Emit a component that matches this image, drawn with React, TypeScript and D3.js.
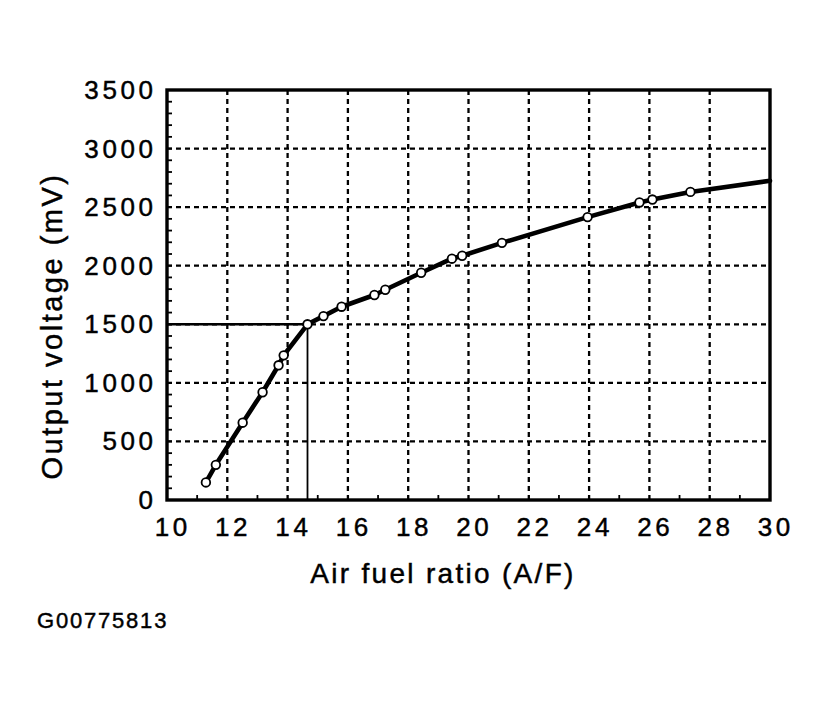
import React from "react";
import * as d3 from "d3";

const xTicks = [10, 12, 14, 16, 18, 20, 22, 24, 26, 28, 30];
const yTicks = [0, 500, 1000, 1500, 2000, 2500, 3000, 3500];
const xMinorTicks = [11, 13, 15, 17, 19, 21, 23, 25, 27, 29];
const yMinorTicks = d3.range(0, 3501, 100);

const pointAF = [11.29, 11.62, 12.51, 13.17, 13.7, 13.87, 14.66, 15.19, 15.79, 16.88, 17.24, 18.43, 19.45, 19.79, 21.11, 23.95, 25.67, 26.1, 27.36];
const pointMV = [150, 300, 660, 920, 1150, 1235, 1500, 1570, 1650, 1750, 1795, 1940, 2060, 2085, 2195, 2415, 2540, 2565, 2630];
const curveEndAF = 30;
const curveEndMV = 2725;
const refAF = 14.66;
const refMV = 1500;

const xTitle = "Air fuel ratio (A/F)";
const yTitle = "Output voltage (mV)";
const figureId = "G00775813";

const W = 823;
const H = 704;
const left = 167;
const right = 770;
const top = 90;
const bottom = 500;

const FONT = "'Liberation Sans', Arial, Helvetica, sans-serif";

export default function App() {
  const x = d3.scaleLinear().domain([10, 30]).range([left, right]);
  const y = d3.scaleLinear().domain([0, 3500]).range([bottom, top]);

  const pts: [number, number][] = pointAF.map((a, i) => [a, pointMV[i]]);
  const curvePts: [number, number][] = [...pts, [curveEndAF, curveEndMV]];
  const line = d3
    .line<[number, number]>()
    .x((d) => x(d[0]))
    .y((d) => y(d[1]))
    .curve(d3.curveLinear);

  const ls = 3.6;
  const textStroke = { stroke: "#000", strokeWidth: 0.45 };

  return (
    <div style={{ position: "absolute", left: 0, top: 0 }}>
      <svg width={W} height={H} style={{ display: "block", background: "#fff" }}>
        <rect x={0} y={0} width={W} height={H} fill="#fff" />
        {/* grid */}
        {xTicks.slice(1, -1).map((t) => (
          <line key={"gx" + t} x1={x(t)} x2={x(t)} y1={top} y2={bottom} stroke="#000" strokeWidth={2.3} strokeDasharray="5,4" />
        ))}
        {yTicks.slice(1, -1).map((t) => (
          <line key={"gy" + t} x1={left} x2={right} y1={y(t)} y2={y(t)} stroke="#000" strokeWidth={2.3} strokeDasharray="5,4" />
        ))}
        {/* minor ticks */}
        {yMinorTicks.map((t) => (
          <line key={"my" + t} x1={left} x2={left + 5} y1={y(t)} y2={y(t)} stroke="#000" strokeWidth={1.8} />
        ))}
        {xMinorTicks.map((t) => (
          <line key={"mx" + t} x1={x(t)} x2={x(t)} y1={bottom} y2={bottom - 5} stroke="#000" strokeWidth={1.8} />
        ))}
        {/* frame */}
        <rect x={left} y={top} width={right - left} height={bottom - top} fill="none" stroke="#000" strokeWidth={3.4} />
        {/* reference lines */}
        <line x1={x(10)} x2={x(refAF)} y1={y(refMV)} y2={y(refMV)} stroke="#000" strokeWidth={2.4} />
        <line x1={x(refAF)} x2={x(refAF)} y1={y(refMV)} y2={y(0)} stroke="#000" strokeWidth={1.8} />
        {/* curve */}
        <path d={line(curvePts) || ""} fill="none" stroke="#000" strokeWidth={4.6} strokeLinejoin="round" strokeLinecap="round" />
        {pts.map((d, i) => (
          <circle key={"p" + i} cx={x(d[0])} cy={y(d[1])} r={4.3} fill="#fff" stroke="#000" strokeWidth={1.8} />
        ))}
        {/* y tick labels */}
        {yTicks.map((t) => (
          <text key={"ly" + t} x={153 + ls} y={y(t) + 9} textAnchor="end" fontFamily={FONT} fontSize={26} letterSpacing={ls} fill="#000" {...textStroke}>
            {t}
          </text>
        ))}
        {/* x tick labels */}
        {xTicks.map((t) => (
          <text key={"lx" + t} x={x(t) + 4 + ls / 2} y={536} textAnchor="middle" fontFamily={FONT} fontSize={26} letterSpacing={ls} fill="#000" {...textStroke}>
            {t}
          </text>
        ))}
        {/* titles */}
        <text x={443} y={583} textAnchor="middle" fontFamily={FONT} fontSize={28} letterSpacing={2.3} fill="#000" {...textStroke}>
          {xTitle}
        </text>
        <text transform="translate(62,326) rotate(-90)" textAnchor="middle" fontFamily={FONT} fontSize={29} letterSpacing={2.5} fill="#000" {...textStroke}>
          {yTitle}
        </text>
        <text x={37} y={628} fontFamily={FONT} fontSize={22} letterSpacing={1.8} fill="#000" {...textStroke}>
          {figureId}
        </text>
      </svg>
    </div>
  );
}
